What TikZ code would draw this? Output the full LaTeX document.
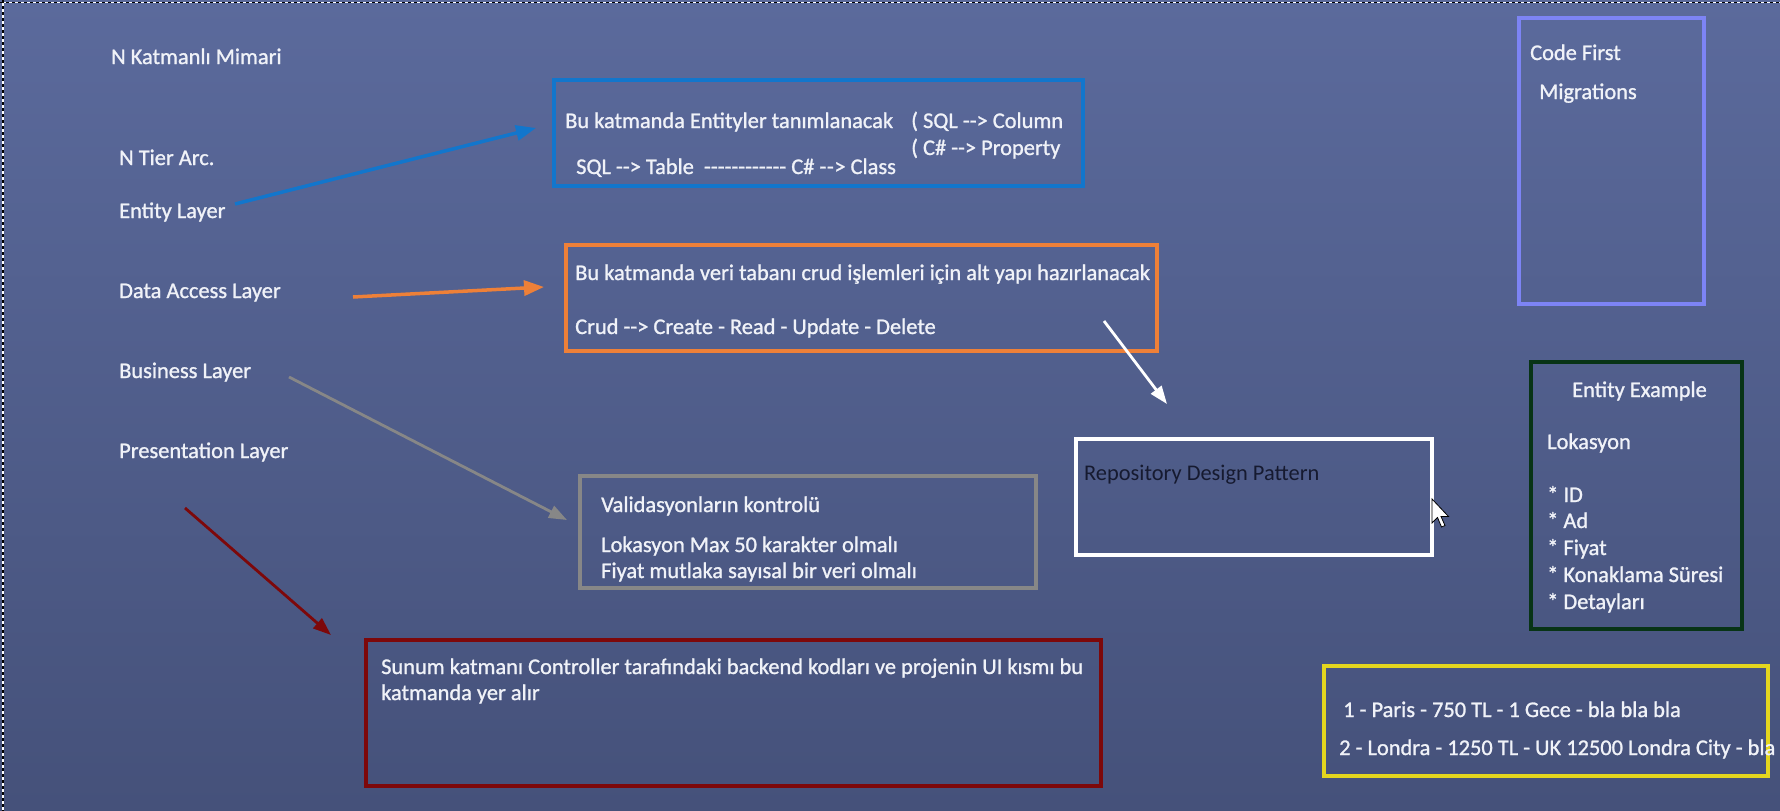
\documentclass[tikz,border=0pt]{standalone}
\usepackage{fontspec}
\setmainfont{Carlito}[Ligatures=TeXOff]
\newfontfamily\wfont{Carlito}[Ligatures=TeXOff,FakeBold=1.1]
\usetikzlibrary{arrows.meta}
\definecolor{bgtop}{RGB}{91,106,156}
\definecolor{bgbot}{RGB}{69,81,122}
\definecolor{cblue}{RGB}{18,118,204}
\definecolor{corange}{RGB}{238,128,56}
\definecolor{cgray}{RGB}{135,135,135}
\definecolor{cred}{RGB}{125,8,10}
\definecolor{cgreen}{RGB}{8,52,22}
\definecolor{cpurple}{RGB}{125,132,245}
\definecolor{cyellow}{RGB}{228,214,30}
\definecolor{txt}{RGB}{240,242,248}
\definecolor{dtxt}{RGB}{22,26,48}
\begin{document}
\begin{tikzpicture}[x=1pt,y=-1pt,
  lbl/.style={anchor=base west,inner sep=0pt,text=txt,font=\fontsize{22.4pt}{26pt}\wfont},
  dlbl/.style={anchor=base west,inner sep=0pt,text=dtxt,font=\fontsize{22.4pt}{26pt}\selectfont},
  box/.style={draw,line width=4pt,anchor=north west,inner sep=0pt,outer sep=0pt,fill=none},
  arr/.style={line width=3.5pt,-{Triangle[length=20pt,width=15pt]}},
  arrthin/.style={line width=2.8pt,-{Triangle[length=18pt,width=13pt]}}]
\useasboundingbox (0,0) rectangle (1780,811);
\clip (0,0) rectangle (1780,811);
\shade[top color=bgtop,bottom color=bgbot] (0,0) rectangle (1780,811);
% selection frame
\draw[white,line width=1.2pt] (0,2.5) -- (1780,2.5) (3,0) -- (3,811);
\draw[black,line width=1.2pt,dash pattern=on 3pt off 3pt] (0,2.5) -- (1780,2.5) (3,0) -- (3,811);

% left labels
\node[lbl] (title) at (111,64) {N Katmanlı Mimari};
\node[lbl] (ntier) at (119,165) {N Tier Arc.};
\node[lbl] (entity) at (119,218) {Entity Layer};
\node[lbl] (dal) at (119,298) {Data Access Layer};
\node[lbl] (bl) at (119,378) {Business Layer};
\node[lbl] (pl) at (119,458) {Presentation Layer};

% boxes
\node[box,draw=cblue,minimum width=529pt,minimum height=106pt] (entbox) at (554,80) {};
\node[box,draw=corange,minimum width=591pt,minimum height=106pt] (dalbox) at (566,245) {};
\node[box,draw=cgray,minimum width=456pt,minimum height=112pt] (blbox) at (580,476) {};
\node[box,draw=cred,minimum width=735pt,minimum height=146pt] (plbox) at (366,640) {};
\node[box,draw=white,minimum width=356pt,minimum height=116pt] (repo) at (1076,439) {};
\node[box,draw=cpurple,minimum width=185pt,minimum height=286pt] (cf) at (1519,18) {};
\node[box,draw=cgreen,minimum width=211pt,minimum height=267pt] (ex) at (1531,362) {};
\node[box,draw=cyellow,minimum width=444pt,minimum height=110pt] (yl) at (1324,666) {};

% texts in boxes
\node[lbl] (e1) at (565,128) {Bu katmanda Entityler tanımlanacak};
\node[lbl] (e2) at (911,128) {( SQL --> Column};
\node[lbl] (e3) at (911,155) {( C\# --> Property};
\node[lbl] (e4) at (576,174) {SQL --> Table\ \ ------------ C\# -\kern0.6pt-\kern0.6pt> Class};

\node[lbl] (d1) at (575,280) {Bu katmanda veri tabanı crud işlemleri için alt yapı hazırlanacak};
\node[lbl] (d2) at (575,334) {Crud --> Create - Read - Update - Delete};

\node[lbl] (b1) at (601,512) {Validasyonların kontrolü};
\node[lbl] (b2) at (601,552) {Lokasyon Max 50 karakter olmalı};
\node[lbl] (b3) at (601,578) {Fiyat mutlaka sayısal bir veri olmalı};

\node[lbl] (p1) at (381,674) {Sunum katmanı Controller tarafındaki backend kodları ve projenin UI kısmı bu};
\node[lbl] (p2) at (381,700) {katmanda yer alır};

\node[dlbl] (r1) at (1084,480) {Repository Design Pattern};

\node[lbl] (c1) at (1530,60) {Code First};
\node[lbl] (c2) at (1539,99) {Migrations};

\node[lbl] (x1) at (1572,397) {Entity Example};
\node[lbl] (x2) at (1547,449) {Lokasyon};
\node[lbl] (x3) at (1547,502) {* ID};
\node[lbl] (x4) at (1547,528) {* Ad};
\node[lbl] (x5) at (1547,555) {* Fiyat};
\node[lbl] (x6) at (1547,582) {* Konaklama Süresi};
\node[lbl] (x7) at (1547,609) {* Detayları};

\node[lbl] (y1) at (1343,717) {1 - Paris - 750 TL - 1 Gece - bla bla bla};
\node[lbl] (y2) at (1339,755) {2 - Londra - 1250 TL - UK 12500 Londra City - bla};

% arrows
\coordinate (a1s) at (235,204); \coordinate (a1e) at (536,128);
\coordinate (a2s) at (353,297); \coordinate (a2e) at (544,287);
\coordinate (a3s) at (289,377); \coordinate (a3e) at (567,520);
\coordinate (a4s) at (185,508); \coordinate (a4e) at (331,635);
\coordinate (a5s) at (1104,321); \coordinate (a5e) at (1167,404);
\draw[arr,cblue] (a1s) -- (a1e);
\draw[arr,corange] (a2s) -- (a2e);
\draw[arrthin,cgray] (a3s) -- (a3e);
\draw[arrthin,cred] (a4s) -- (a4e);
\draw[arrthin,white] (a5s) -- (a5e);

% mouse cursor
\coordinate (cur) at (1432,499);
\draw[fill=white,draw=black,line width=0.8pt,shift={(cur)}]
  (0,0) -- (0,24) -- (5.5,18.5) -- (9.5,28) -- (13,26.5) -- (9,17.5) -- (16.5,17.5) -- cycle;
\end{tikzpicture}
\end{document}
